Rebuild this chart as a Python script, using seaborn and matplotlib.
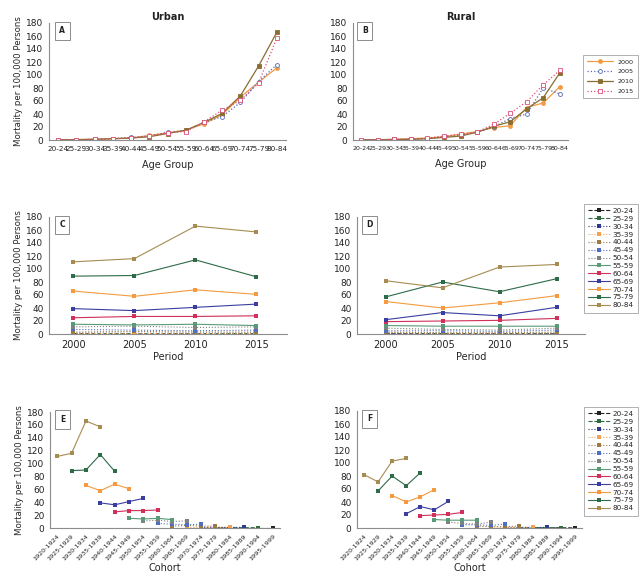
import pandas as pd
import matplotlib
matplotlib.use("Agg")
import matplotlib.pyplot as plt
import seaborn as sns

# Age groups, periods and birth cohorts
age_groups = ["20-24", "25-29", "30-34", "35-39", "40-44", "45-49", "50-54",
              "55-59", "60-64", "65-69", "70-74", "75-79", "80-84"]
periods = [2000, 2005, 2010, 2015]
cohorts = ["1920-1924", "1925-1929", "1930-1934", "1935-1939", "1940-1944",
           "1945-1949", "1950-1954", "1955-1959", "1960-1964", "1965-1969",
           "1970-1974", "1975-1979", "1980-1984", "1985-1989", "1990-1994",
           "1995-1999"]

# Mortality per 100,000 persons, one list per period (values by age group)
urban_2000 = [0.3, 0.6, 1.2, 2, 3, 7, 11, 15, 25, 39, 66, 89, 111]
urban_2005 = [0.3, 0.5, 1.0, 2, 4, 6, 12, 14, 27, 36, 58, 90, 116]
urban_2010 = [0.3, 0.5, 1.0, 2, 3, 5, 10, 15, 27, 41, 68, 114, 166]
urban_2015 = [0.3, 0.6, 1.0, 2, 3, 6, 11, 13, 28, 46, 61, 88, 157]

rural_2000 = [0.2, 0.5, 1.0, 2, 3, 5, 9, 13, 19, 22, 50, 57, 82]
rural_2005 = [0.2, 0.4, 0.8, 1, 2, 5, 7, 12, 20, 33, 40, 80, 71]
rural_2010 = [0.3, 0.3, 0.8, 1, 2, 4, 6, 12, 21, 28, 48, 65, 103]
rural_2015 = [0.2, 0.4, 0.9, 1.5, 3, 6, 9, 12, 24, 41, 59, 85, 107]

series = {("Urban", 2000): urban_2000, ("Urban", 2005): urban_2005,
          ("Urban", 2010): urban_2010, ("Urban", 2015): urban_2015,
          ("Rural", 2000): rural_2000, ("Rural", 2005): rural_2005,
          ("Rural", 2010): rural_2010, ("Rural", 2015): rural_2015}

rows = []
for (area, period), values in series.items():
    for i, v in enumerate(values):
        rows.append({"Area": area, "Period": period, "Age": age_groups[i],
                     "AgeIdx": i, "Rate": v,
                     "CohortIdx": periods.index(period) + (len(age_groups) - 1 - i)})
df = pd.DataFrame(rows)

period_styles = {
    2000: dict(color="#f29b45", linestyle="-", marker="o", markerfacecolor="#f29b45"),
    2005: dict(color="#5668b5", linestyle=":", marker="o", markerfacecolor="white"),
    2010: dict(color="#8a6d30", linestyle="-", marker="s", markerfacecolor="#8a6d30"),
    2015: dict(color="#e0507a", linestyle=":", marker="s", markerfacecolor="white"),
}

age_colors = ["#222222", "#2f6a40", "#2d3a8c", "#f5a050", "#9a7a40", "#4f70c0",
              "#808080", "#5a9a78", "#d0305a", "#3a3ea0", "#f59a40", "#2e6b48",
              "#a68c50"]
age_lines = ["--", "--", ":", ":", ":", ":", ":", "-", "-", "-", "-", "-", "-"]

GREY = "#8c8c8c"


def style_axis(ax, letter, ylabel=True):
    sns.despine(ax=ax)
    ax.spines["left"].set_color(GREY)
    ax.spines["bottom"].set_color(GREY)
    ax.spines["left"].set_linewidth(0.8)
    ax.spines["bottom"].set_linewidth(0.8)
    ax.set_ylim(0, 180)
    ax.set_yticks(range(0, 181, 20))
    ax.tick_params(axis="y", labelsize=6.5, length=2, color=GREY, pad=2)
    ax.tick_params(axis="x", length=2, color=GREY, pad=2)
    if ylabel:
        ax.set_ylabel("Mortality per 100,000 Persons", fontsize=6.2, labelpad=2)
    else:
        ax.set_ylabel("")
    ax.text(0.055, 0.935, letter, transform=ax.transAxes, fontsize=5.5,
            fontweight="bold", ha="center", va="center",
            bbox=dict(boxstyle="square,pad=0.6", fc="white", ec=GREY, lw=0.7))


def age_panel(ax, area, letter, tick_size, ylabel):
    sub = df[df["Area"] == area]
    for p in periods:
        d = sub[sub["Period"] == p]
        sns.lineplot(data=d, x="AgeIdx", y="Rate", ax=ax, label=str(p),
                     linewidth=0.9, markersize=2.8, markeredgewidth=0.6,
                     markeredgecolor=period_styles[p]["color"], **period_styles[p])
    ax.set_xlim(-0.5, len(age_groups) - 0.5)
    ax.set_xticks(range(len(age_groups)))
    ax.set_xticklabels(age_groups, fontsize=tick_size)
    ax.set_xlabel("Age Group", fontsize=7, labelpad=6)
    ax.set_title(area, fontsize=7, fontweight="bold", pad=2)
    style_axis(ax, letter, ylabel)


def period_panel(ax, area, letter, ylabel, xlim):
    sub = df[df["Area"] == area]
    for i, a in enumerate(age_groups):
        d = sub[sub["AgeIdx"] == i]
        sns.lineplot(data=d, x="Period", y="Rate", ax=ax, label=a,
                     color=age_colors[i], linestyle=age_lines[i], marker="s",
                     markersize=2.3, markeredgewidth=0, linewidth=0.8)
    ax.set_xlim(*xlim)
    ax.set_xticks(periods)
    ax.tick_params(axis="x", labelsize=7)
    ax.set_xlabel("Period", fontsize=7, labelpad=2)
    style_axis(ax, letter, ylabel)


def cohort_panel(ax, area, letter, ylabel):
    sub = df[df["Area"] == area]
    for i, a in enumerate(age_groups):
        d = sub[sub["AgeIdx"] == i]
        sns.lineplot(data=d, x="CohortIdx", y="Rate", ax=ax, label=a,
                     color=age_colors[i], linestyle=age_lines[i], marker="s",
                     markersize=2.3, markeredgewidth=0, linewidth=0.8)
    ax.set_xlim(-0.5, len(cohorts) - 0.5)
    ax.set_xticks(range(len(cohorts)))
    ax.set_xticklabels(cohorts, fontsize=4.6, rotation=45, ha="right",
                       rotation_mode="anchor")
    ax.set_xlabel("Cohort", fontsize=7, labelpad=1)
    style_axis(ax, letter, ylabel)


sns.set_style("white")
plt.rcParams["font.family"] = ["DejaVu Sans"]
plt.rcParams["text.color"] = "#222222"
plt.rcParams["xtick.color"] = "#222222"
plt.rcParams["ytick.color"] = "#222222"

W, H = 640, 576
fig = plt.figure(figsize=(6.4, 5.76), dpi=100)


def add_ax(x0, y0, x1, y1):
    return fig.add_axes([x0 / W, 1 - y1 / H, (x1 - x0) / W, (y1 - y0) / H])


axA = add_ax(49, 23, 286, 140)
axB = add_ax(353, 23, 568, 140)
axC = add_ax(49, 217, 287, 334)
axD = add_ax(357, 217, 585, 334)
axE = add_ax(50, 412, 280, 528)
axF = add_ax(357, 411, 582, 528)

age_panel(axA, "Urban", "A", 5.2, True)
age_panel(axB, "Rural", "B", 4.5, False)
period_panel(axC, "Urban", "C", True, (1998, 2017.5))
period_panel(axD, "Rural", "D", False, (1997.5, 2017.5))
cohort_panel(axE, "Urban", "E", True)
cohort_panel(axF, "Rural", "F", False)

leg_kw = dict(loc="upper left", bbox_transform=fig.transFigure, frameon=True,
              fancybox=False, edgecolor=GREY, borderpad=0.6)

for ax in (axA, axC, axE):
    ax.get_legend().remove()

lg = axB.legend(bbox_to_anchor=(580 / W, 1 - 52 / H), fontsize=4.6,
                handlelength=4, labelspacing=0.7, **leg_kw)
lg.get_frame().set_linewidth(0.6)
for ax, top in ((axD, 200), (axF, 403)):
    lg = ax.legend(bbox_to_anchor=(580 / W, 1 - top / H), fontsize=5.2,
                   handlelength=3, labelspacing=0.25, handletextpad=0.4,
                   **leg_kw)
    lg.get_frame().set_linewidth(0.6)

plt.savefig("out.png", dpi=100)
